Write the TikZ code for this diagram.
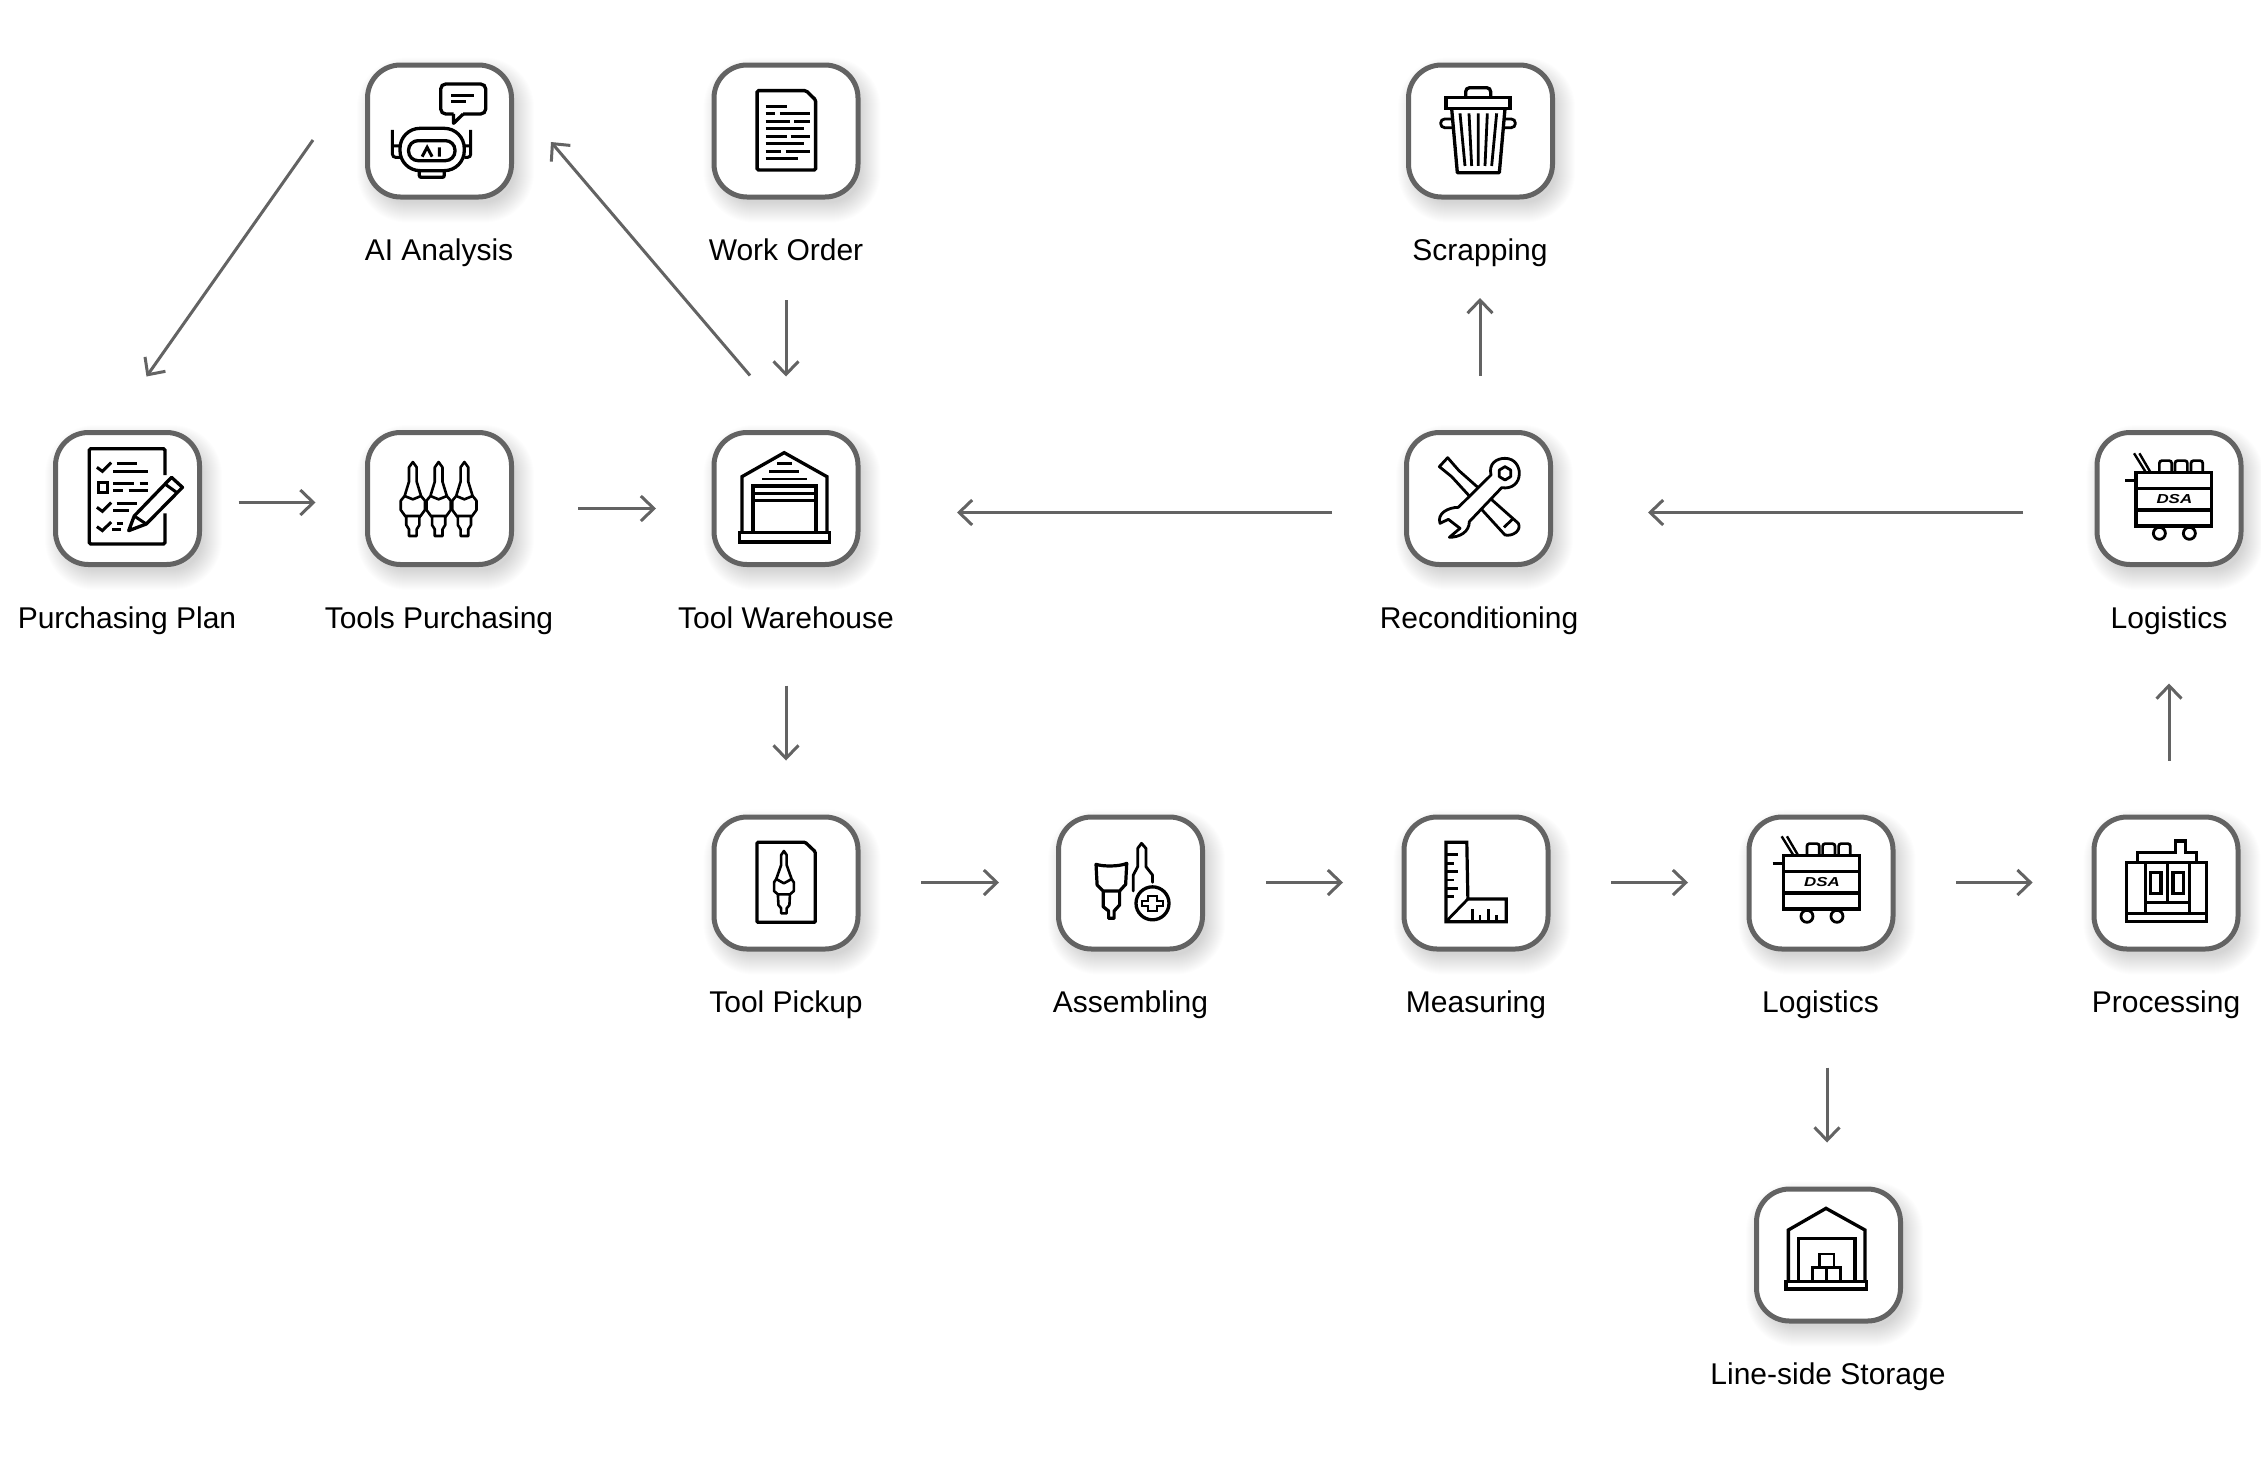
\documentclass[tikz,border=0pt]{standalone}
\usepackage{fontspec}
\setmainfont{Liberation Sans}
\usetikzlibrary{arrows.meta}
\definecolor{edgegray}{HTML}{636363}
\tikzset{
  iconbox/.style={draw=edgegray,fill=white,line width=5pt,rounded corners=33pt,minimum width=144pt,minimum height=132pt,inner sep=0pt,outer sep=0pt},
  lbl/.style={font=\fontsize{30}{36}\selectfont,text=black,inner sep=0pt,anchor=base},
  arr/.style={draw=edgegray,line width=3pt,-{Straight Barb[length=13pt,width=25pt,line width=3pt]}},
  ico/.style={draw=black,line width=3.3pt,line join=miter},
  icot/.style={draw=black,line width=2.6pt,line join=round,line cap=round},
  zoomA/.style={shift={(340,40)},x=0.3571pt,y=-0.3333pt},
  zoomB/.style={shift={(30,410)},x=0.5485pt,y=-0.3333pt},
  zoomC/.style={shift={(700,805)},x=0.5485pt,y=-0.3333pt},
  zoomD/.style={shift={(1730,805)},x=0.3381pt,y=-0.3333pt},
  zoomE/.style={x=0.3333pt,y=-0.3333pt},
}
\newcommand{\tboxnode}[3]{%
  \foreach \i in {-6,...,14}{%
    \pgfmathsetmacro{\rr}{max(8,36+\i)}%
    \fill[black,opacity=.0068,rounded corners=\rr pt]
      ({#2+6-74.5-\i},{#3+9-68.5-\i}) rectangle ({#2+6+74.5+\i},{#3+9+68.5+\i});
  }%
  \node[iconbox] (#1) at (#2,#3) {};
}
\newcommand{\cartIcon}[3]{%
  \begin{scope}[shift={(#1-93.67,#2-79.33)},zoomE]
    \draw[ico] (168,158) rectangle (395,318);
    \draw[ico] (168,205) -- (395,205) (168,270) -- (395,270);
    \draw[ico,line width=3pt] (135,182) -- (168,182);
    \draw[ico,line width=2.4pt] (162,100) -- (198,158) (178,100) -- (212,158);
    \draw[ico,line width=2.7pt,rounded corners=2.5pt] (238,158) -- (238,122) -- (275,122) -- (275,158);
    \draw[ico,line width=2.7pt,rounded corners=2.5pt] (285,158) -- (285,122) -- (322,122) -- (322,158);
    \draw[ico,line width=2.7pt,rounded corners=2.5pt] (333,158) -- (333,122) -- (368,122) -- (368,158);
    \draw[ico,line width=2.8pt] (238,340) circle[radius=6pt];
    \draw[ico,line width=2.8pt] (328,340) circle[radius=6pt];
    \node[inner sep=0pt,xscale=1.3,font=\fontsize{13}{15}\itshape\bfseries\selectfont] (#3) at (283,236) {DSA};
  \end{scope}%
}
\newcommand{\cartridge}[1]{%
  \draw[icot,shift={(#1,0)}] (0,156) -- (7,172) -- (7,215) -- (15,258) -- (22,272) -- (22,300) -- (14,318) -- (12,322) -- (12,345) -- (7,358) -- (7,378) -- (-7,378) -- (-7,358) -- (-12,345) -- (-12,322) -- (-14,318) -- (-22,300) -- (-22,272) -- (-15,258) -- (-7,215) -- (-7,172) -- cycle (-15,258) -- (0,268) -- (15,258) (-14,318) -- (14,318);
}
\begin{document}
\begin{tikzpicture}[x=1pt,y=-1pt]
\useasboundingbox (0,0) rectangle (2261,1473);
\fill[white] (0,0) rectangle (2261,1473);

\tboxnode{ai}{439.5}{131}
\tboxnode{work}{786}{131}
\tboxnode{scrap}{1480.5}{131}
\tboxnode{purch}{127.5}{498.5}
\tboxnode{tools}{439.5}{498.5}
\tboxnode{ware}{786}{498.5}
\tboxnode{recon}{1478.5}{498.5}
\tboxnode{logt}{2169}{498.5}
\tboxnode{pick}{786}{883}
\tboxnode{assem}{1130.5}{883}
\tboxnode{meas}{1476}{883}
\tboxnode{logb}{1821}{883}
\tboxnode{proc}{2166}{883}
\tboxnode{store}{1828.5}{1255}

% labels
\node[lbl] (lai) at (439,260) {AI Analysis};
\node[lbl] (lwork) at (786,260) {Work Order};
\node[lbl] (lscrap) at (1480,260) {Scrapping};
\node[lbl] (lpurch) at (127,628) {Purchasing Plan};
\node[lbl] (ltools) at (439,628) {Tools Purchasing};
\node[lbl] (lware) at (786,628) {Tool Warehouse};
\node[lbl] (lrecon) at (1479,628) {Reconditioning};
\node[lbl] (llogt) at (2169,628) {Logistics};
\node[lbl] (lpick) at (786,1012) {Tool Pickup};
\node[lbl] (lassem) at (1130.5,1012) {Assembling};
\node[lbl] (lmeas) at (1476,1012) {Measuring};
\node[lbl] (llogb) at (1820.5,1012) {Logistics};
\node[lbl] (lproc) at (2166,1012) {Processing};
\node[lbl] (lstore) at (1828,1384) {Line-side Storage};

% connectors
\draw[arr] ([shift={(-126.5,9)}]ai.center) -- ([shift={(19,-122)}]purch.center);
\draw[arr] ([shift={(-36,-123)}]ware.center) -- ([shift={(111.5,11)}]ai.center);
\draw[arr] ([shift={(0,169)}]work.center) -- ([shift={(0,-122)}]ware.center);
\draw[arr] ([shift={(111,4)}]purch.center) -- ([shift={(-124,4)}]tools.center);
\draw[arr] ([shift={(138.5,10)}]tools.center) -- ([shift={(-130,10)}]ware.center);
\draw[arr] ([shift={(0,187)}]ware.center) -- ([shift={(0,-122.5)}]pick.center);
\draw[arr] ([shift={(-146.5,14)}]recon.center) -- ([shift={(171,14)}]ware.center);
\draw[arr] ([shift={(-146,14)}]logt.center) -- ([shift={(169.5,14)}]recon.center);
\draw[arr] ([shift={(1.5,-123)}]recon.center) -- ([shift={(-.5,167)}]scrap.center);
\draw[arr] ([shift={(3,-122.5)}]proc.center) -- ([shift={(0,185)}]logt.center);
\draw[arr] ([shift={(135,-.5)}]pick.center) -- ([shift={(-131.5,-.5)}]assem.center);
\draw[arr] ([shift={(135.5,-.5)}]assem.center) -- ([shift={(-133,-.5)}]meas.center);
\draw[arr] ([shift={(135,-.5)}]meas.center) -- ([shift={(-133,-.5)}]logb.center);
\draw[arr] ([shift={(135,-.5)}]logb.center) -- ([shift={(-133.4,-.5)}]proc.center);
\draw[arr] ([shift={(6,184.5)}]logb.center) -- ([shift={(-1.5,-112.5)}]store.center);

% --- AI icon and work order
\begin{scope}[zoomA]
  \draw[ico,rounded corners=5pt] (345,222) -- (408,222) -- (408,132) -- (282,132) -- (282,222) -- (318,222);
  \draw[ico,line join=round] (345,222) -- (318,250) -- (318,222);
  \draw[ico,line width=3pt] (312,167) -- (375,167) (312,186) -- (352,186);
  \draw[ico,rounded corners=20pt] (168,265) rectangle (348,392);
  \draw[ico,rounded corners=9.5pt] (192,302) rectangle (322,362);
  \draw[ico,line width=3pt] (230,350) -- (244,322) -- (258,350) (278,322) -- (278,350);
  \draw[ico,line width=3pt,rounded corners=3pt] (147,270) -- (147,352) -- (168,352) (148,318) -- (168,318);
  \draw[ico,line width=3pt,rounded corners=3pt] (366,270) -- (366,352) -- (348,352) (366,318) -- (348,318);
  \draw[ico,rounded corners=2pt] (222,392) -- (222,412) -- (292,412) -- (292,392);
  % work order
  \draw[ico,rounded corners=1.5pt,line width=3.4pt] (1168,152) -- (1305,152) -- (1332,180) -- (1332,390) -- (1168,390) -- cycle;
  \draw[ico,line width=3.2pt] (1192,199) -- (1252,199)
    (1192,221) -- (1218,221) (1232,221) -- (1315,221)
    (1192,244) -- (1260,244) (1272,244) -- (1315,244)
    (1192,266) -- (1298,266)
    (1192,289) -- (1252,289) (1262,289) -- (1315,289)
    (1192,311) -- (1298,311)
    (1192,334) -- (1236,334) (1248,334) -- (1315,334)
    (1192,356) -- (1282,356);
\end{scope}

% --- Purchasing plan, tools, warehouse
\begin{scope}[zoomB]
  \draw[ico,rounded corners=1.5pt] (246,195) -- (246,116) -- (108,116) -- (108,402) -- (246,402) -- (246,310);
  \draw[ico,line width=3pt] (122,172) -- (132,184) -- (148,158) (122,292) -- (132,304) -- (148,278) (122,350) -- (132,362) -- (148,336);
  \draw[ico,line width=3pt] (158,160) -- (195,160) (152,183) -- (215,183)
    (152,220) -- (190,220) (200,220) -- (215,220)
    (152,242) -- (170,242) (180,242) -- (215,242)
    (158,280) -- (195,280) (152,303) -- (180,303)
    (158,340) -- (170,340) (150,360) -- (165,360);
  \draw[ico,line width=3pt] (124,218) rectangle (142,248);
  \draw[ico,fill=white,line join=round] (180,362) -- (190,318) -- (258,202) -- (278,232) -- (212,342) -- cycle;
  \draw[ico,line width=3pt] (190,318) -- (212,342) (246,222) -- (268,248);
  \cartridge{698}
  \cartridge{745}
  \cartridge{792}
  \draw[ico] (1298,368) -- (1298,200) -- (1375,128) -- (1453,200) -- (1453,368);
  \draw[ico] (1293,368) rectangle (1458,396);
  \draw[ico] (1318,368) -- (1318,228) -- (1433,228) -- (1433,368);
  \draw[ico,line width=2.8pt] (1318,250) -- (1433,250) (1318,272) -- (1433,272);
  \draw[ico,line width=2.8pt] (1362,160) -- (1390,160) (1348,184) -- (1402,184) (1335,207) -- (1417,207);
\end{scope}

% --- Scrapping
\begin{scope}[shift={(1380,50)},zoomE]
  \draw[ico] (198,143) rectangle (390,176);
  \draw[ico,rounded corners=4pt] (257,143) -- (257,113) -- (332,113) -- (332,143);
  \draw[ico,line join=round] (215,176) -- (232,368) -- (358,368) -- (375,176);
  \draw[ico,line width=2.8pt] (240,190) -- (255,348) (267,190) -- (275,348) (295,190) -- (295,348) (322,190) -- (315,348) (350,190) -- (335,348);
  \draw[ico,line width=2.8pt,rounded corners=4pt] (217,207) -- (182,207) -- (182,233) -- (220,233);
  \draw[ico,line width=2.8pt,rounded corners=4pt] (372,207) -- (406,207) -- (406,233) -- (370,233);
\end{scope}

% --- Reconditioning
\begin{scope}[shift={(1380,420)},zoomE]
  \draw[ico,line width=2.8pt,line join=round] (178,140) -- (203,113) -- (222,135) -- (237,152) -- (415,310) .. controls (425,330) and (400,350) .. (375,345) -- (215,170) -- cycle;
  \draw[ico,line width=2.8pt] (372,322) -- (398,297);
  \draw[ico,line width=2.8pt,fill=white,line join=round] (333,165) .. controls (325,130) and (350,115) .. (375,115) .. controls (405,115) and (418,140) .. (418,160) .. controls (418,190) and (395,208) .. (365,203) -- (268,305) .. controls (268,335) and (240,352) .. (208,352) -- (240,325) -- (205,298) -- (180,310) .. controls (170,280) and (205,262) .. (235,262) -- cycle;
  \draw[ico,line width=2.8pt,line join=round] (375,140) -- (392,150) -- (392,170) -- (375,180) -- (358,170) -- (358,150) -- cycle;
\end{scope}

% --- Logistics carts
\cartIcon{2173.7}{499.3}{dsat}
\cartIcon{1821.3}{882.3}{dsab}

% --- Pickup, assembling, measuring
\begin{scope}[zoomC]
  \draw[ico,rounded corners=1pt] (104,112) -- (192,112) -- (210,140) -- (210,352) -- (104,352) -- cycle;
  \draw[icot] (153,138) -- (158,150) -- (158,180) -- (167,222) -- (171,232) -- (171,258) -- (164,268) -- (163,300) -- (158,310) -- (158,325) -- (148,325) -- (148,310) -- (143,300) -- (142,268) -- (135,258) -- (135,232) -- (139,222) -- (148,180) -- (148,150) -- cycle (139,222) -- (153,235) -- (167,222) (142,268) -- (164,268);
  \draw[ico,line join=round,line cap=round,line width=3.2pt] (722,178) .. controls (735,185) and (765,185) .. (778,175) -- (776,238) -- (765,258) -- (765,300) -- (755,318) -- (755,340) -- (745,340) -- (745,318) -- (735,305) -- (735,258) -- (724,240) -- cycle (735,258) -- (765,258);
  \draw[ico,line join=round,line cap=round,line width=2.8pt] (790,258) -- (790,210) -- (798,185) -- (798,130) -- (805,115) -- (813,130) -- (813,185) -- (825,210) -- (825,232);
  \draw[ico] (825,295) circle[radius=16.5pt];
  \draw[ico,line width=2.2pt] (817,272) -- (833,272) -- (833,287) -- (844,287) -- (844,303) -- (833,303) -- (833,318) -- (817,318) -- (817,303) -- (806,303) -- (806,287) -- (817,287) -- cycle;
  \draw[ico,line width=3.2pt] (1360,112) -- (1398,112) -- (1400,282) -- (1470,282) -- (1470,350) -- (1360,350) -- cycle;
  \draw[ico,line width=2.8pt] (1360,350) -- (1400,282);
  \draw[ico,line width=2.8pt] (1360,148) -- (1382,148) (1360,175) -- (1375,175) (1360,200) -- (1382,200) (1360,225) -- (1375,225) (1360,250) -- (1382,250) (1360,275) -- (1375,275);
  \draw[ico,line width=2.8pt] (1408,350) -- (1408,312) (1422,350) -- (1422,330) (1437,350) -- (1437,312) (1452,350) -- (1452,330);
\end{scope}

% --- Processing
\begin{scope}[zoomD]
  \draw[ico] (1172,172) rectangle (1410,350);
  \draw[ico] (1172,325) -- (1410,325) (1228,172) -- (1228,325) (1358,172) -- (1358,325) (1293,172) -- (1293,292) (1228,292) -- (1358,292);
  \draw[ico] (1243,203) rectangle (1275,265) (1310,203) rectangle (1342,265);
  \draw[ico] (1205,172) -- (1205,142) -- (1318,142) -- (1318,108) -- (1347,108) -- (1347,142) -- (1380,142) -- (1380,172);
\end{scope}

% --- Line-side storage
\begin{scope}[shift={(1730,1175)},zoomE]
  \draw[ico] (175,320) -- (175,165) -- (288,100) -- (405,165) -- (405,320);
  \draw[ico] (168,320) rectangle (410,342);
  \draw[ico] (205,320) -- (205,190) -- (375,190) -- (375,320);
  \draw[ico,line width=2.8pt] (248,278) rectangle (290,320) (290,278) rectangle (332,320) (268,237) rectangle (312,278);
\end{scope}
\end{tikzpicture}
\end{document}
